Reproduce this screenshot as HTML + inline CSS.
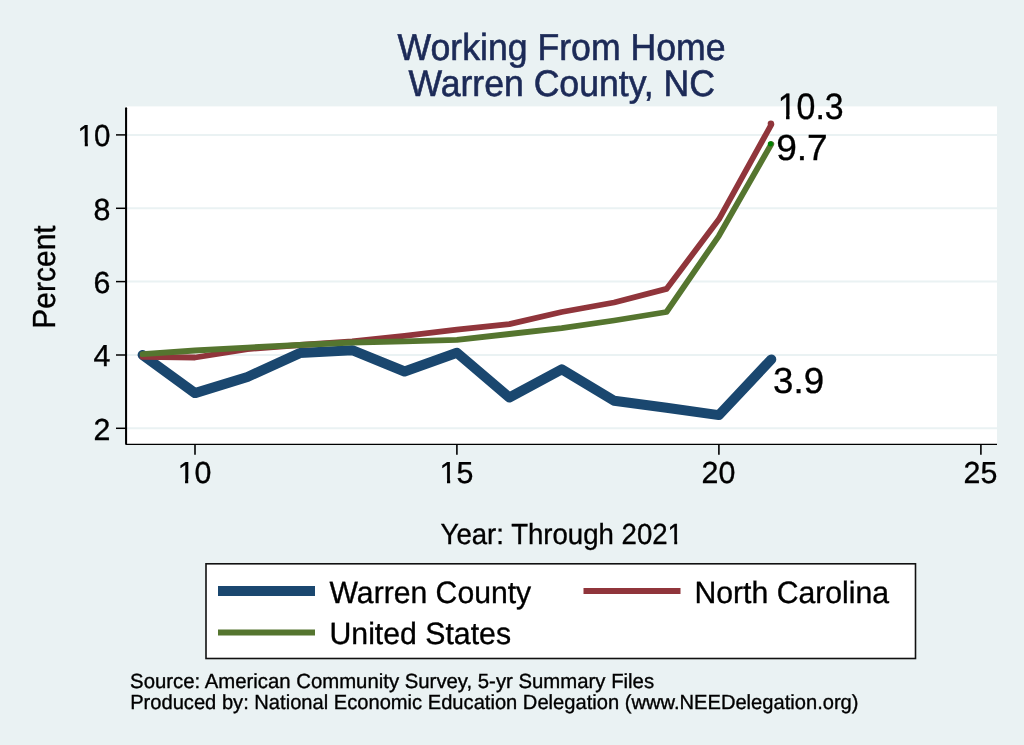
<!DOCTYPE html>
<html><head><meta charset="utf-8"><title>Working From Home - Warren County, NC</title>
<style>
html,body{margin:0;padding:0;background:#EAF2F3;}
body{width:1024px;height:745px;overflow:hidden;}
svg{display:block;font-family:'Liberation Sans', Arial, Helvetica, sans-serif;will-change:transform;text-rendering:geometricPrecision;}
</style></head><body>
<svg width="1024" height="745" viewBox="0 0 1024 745">
<rect x="0" y="0" width="1024" height="745" fill="#EAF2F3"/>
<text id="title1" x="397.44" y="59.50" font-size="37.50" fill="#1C2A57" stroke="#1C2A57" stroke-width="0.6" textLength="328.18" lengthAdjust="spacingAndGlyphs">Working From Home</text>
<text id="title2" x="408.40" y="96.10" font-size="37.06" fill="#1C2A57" stroke="#1C2A57" stroke-width="0.6" textLength="306.63" lengthAdjust="spacingAndGlyphs">Warren County, NC</text>
<rect x="126" y="106.4" width="871" height="338" fill="#fff"/>
<line x1="127" x2="997" y1="428.3" y2="428.3" stroke="#EAF2F3" stroke-width="2"/>
<line x1="127" x2="997" y1="355.0" y2="355.0" stroke="#EAF2F3" stroke-width="2"/>
<line x1="127" x2="997" y1="281.6" y2="281.6" stroke="#EAF2F3" stroke-width="2"/>
<line x1="127" x2="997" y1="208.3" y2="208.3" stroke="#EAF2F3" stroke-width="2"/>
<line x1="127" x2="997" y1="134.9" y2="134.9" stroke="#EAF2F3" stroke-width="2"/>

<polyline points="142.6,355.0 195.0,393.1 247.4,377.0 299.8,353.1 352.2,350.2 404.6,371.5 456.9,352.7 509.3,397.5 561.7,369.3 614.1,400.8 666.5,407.8 718.9,415.1 771.3,359.4" fill="none" stroke="#1A476F" stroke-width="10" stroke-linejoin="round" stroke-linecap="round"/>
<polyline points="142.6,356.8 195.0,357.5 247.4,349.1 299.8,345.0 352.2,341.4 404.6,335.9 456.9,329.6 509.3,324.1 561.7,312.0 614.1,302.5 666.5,288.9 718.9,219.3 771.3,124.6" fill="none" stroke="#90353B" stroke-width="5.8" stroke-linejoin="round" stroke-linecap="round"/>
<polyline points="142.6,354.2 195.0,350.5 247.4,347.6 299.8,345.0 352.2,342.5 404.6,341.4 456.9,339.9 509.3,334.0 561.7,328.2 614.1,320.5 666.5,312.0 718.9,235.8 771.3,144.1" fill="none" stroke="#55752F" stroke-width="5.8" stroke-linejoin="round" stroke-linecap="round"/>
<circle cx="770.9" cy="123.6" r="3.2" fill="#90353B"/>
<circle cx="770.4" cy="143.8" r="2.6" fill="#008000"/>
<path d="M126.1,108.2 L126.1,444.4 L997,444.4" fill="none" stroke="#000" stroke-width="1.3" stroke-linejoin="round"/>
<line x1="126.1" x2="126.1" y1="108.2" y2="443.5" stroke="#000" stroke-width="2" stroke-linecap="round"/>
<line x1="116" x2="126" y1="428.3" y2="428.3" stroke="#000" stroke-width="1.5"/>
<line x1="116" x2="126" y1="355.0" y2="355.0" stroke="#000" stroke-width="1.5"/>
<line x1="116" x2="126" y1="281.6" y2="281.6" stroke="#000" stroke-width="1.5"/>
<line x1="116" x2="126" y1="208.3" y2="208.3" stroke="#000" stroke-width="1.5"/>
<line x1="116" x2="126" y1="134.9" y2="134.9" stroke="#000" stroke-width="1.5"/>

<text id="yt2" x="110.4" y="439.7" text-anchor="end" font-size="30.38" stroke="#000" stroke-width="0.35">2</text>
<text id="yt4" x="110.4" y="366.4" text-anchor="end" font-size="30.38" stroke="#000" stroke-width="0.35">4</text>
<text id="yt6" x="110.4" y="293.0" text-anchor="end" font-size="30.38" stroke="#000" stroke-width="0.35">6</text>
<text id="yt8" x="110.4" y="219.7" text-anchor="end" font-size="30.38" stroke="#000" stroke-width="0.35">8</text>
<text id="yt10" x="110.4" y="146.3" text-anchor="end" font-size="30.38" stroke="#000" stroke-width="0.35" textLength="32.8" lengthAdjust="spacingAndGlyphs">10</text>

<line x1="195.0" x2="195.0" y1="444" y2="454.8" stroke="#000" stroke-width="1.6"/>
<text id="xt10" x="194.55" y="482.6" text-anchor="middle" font-size="30.38" stroke="#000" stroke-width="0.35">10</text>
<line x1="456.9" x2="456.9" y1="444" y2="454.8" stroke="#000" stroke-width="1.6"/>
<text id="xt15" x="456.50" y="482.6" text-anchor="middle" font-size="30.38" stroke="#000" stroke-width="0.35">15</text>
<line x1="718.9" x2="718.9" y1="444" y2="454.8" stroke="#000" stroke-width="1.6"/>
<text id="xt20" x="718.45" y="482.6" text-anchor="middle" font-size="30.38" stroke="#000" stroke-width="0.35">20</text>
<line x1="980.9" x2="980.9" y1="444" y2="454.8" stroke="#000" stroke-width="1.6"/>
<text id="xt25" x="980.40" y="482.6" text-anchor="middle" font-size="30.38" stroke="#000" stroke-width="0.35">25</text>

<text id="l103" x="777.78" y="119.00" font-size="36.77" fill="#000" stroke="#000" stroke-width="0.35" textLength="65.94" lengthAdjust="spacingAndGlyphs">10.3</text>
<text id="l97" x="776.17" y="160.20" font-size="36.34" fill="#000" stroke="#000" stroke-width="0.35" textLength="51.55" lengthAdjust="spacingAndGlyphs">9.7</text>
<text id="l39" x="773.12" y="393.20" font-size="36.34" fill="#000" stroke="#000" stroke-width="0.35" textLength="50.94" lengthAdjust="spacingAndGlyphs">3.9</text>
<text id="percent" x="0" y="0" font-size="31.98" fill="#000" stroke="#000" stroke-width="0.35" textLength="103.33" lengthAdjust="spacingAndGlyphs" transform="translate(54.90 328.64) rotate(-90)">Percent</text>
<text id="xtitle" x="440.57" y="543.90" font-size="29.07" fill="#000" stroke="#000" stroke-width="0.35" textLength="242.35" lengthAdjust="spacingAndGlyphs">Year: Through 2021</text>
<rect x="206" y="563.8" width="709.5" height="94.7" fill="#fff" stroke="#111" stroke-width="1.6"/>
<line x1="218" x2="315" y1="591" y2="591" stroke="#1A476F" stroke-width="10"/>
<text id="leg_wc" x="329.54" y="603.20" font-size="30.81" fill="#000" stroke="#000" stroke-width="0.35" textLength="201.63" lengthAdjust="spacingAndGlyphs">Warren County</text>
<line x1="583.5" x2="680.5" y1="591" y2="591" stroke="#90353B" stroke-width="6"/>
<text id="leg_nc" x="694.42" y="603.20" font-size="30.81" fill="#000" stroke="#000" stroke-width="0.35" textLength="194.73" lengthAdjust="spacingAndGlyphs">North Carolina</text>
<line x1="218" x2="315" y1="632.4" y2="632.4" stroke="#55752F" stroke-width="6"/>
<text id="leg_us" x="329.48" y="644.00" font-size="30.81" fill="#000" stroke="#000" stroke-width="0.35" textLength="181.57" lengthAdjust="spacingAndGlyphs">United States</text>
<text id="foot1" x="130.10" y="687.60" font-size="20.49" fill="#000" stroke="#000" stroke-width="0.35" textLength="523.99" lengthAdjust="spacingAndGlyphs">Source: American Community Survey, 5-yr Summary Files</text>
<text id="foot2" x="130.14" y="708.50" font-size="20.49" fill="#000" stroke="#000" stroke-width="0.35" textLength="728.39" lengthAdjust="spacingAndGlyphs">Produced by: National Economic Education Delegation (www.NEEDelegation.org)</text>
<rect x="78.45" y="142.53" width="6.32" height="5.37" fill="#EAF2F3"/>
<rect x="87.88" y="142.53" width="6.09" height="5.37" fill="#EAF2F3"/>
<rect x="178.57" y="478.83" width="6.48" height="5.37" fill="#EAF2F3"/>
<rect x="188.23" y="478.83" width="6.24" height="5.37" fill="#EAF2F3"/>
<rect x="440.52" y="478.83" width="6.48" height="5.37" fill="#EAF2F3"/>
<rect x="450.18" y="478.83" width="6.24" height="5.37" fill="#EAF2F3"/>
<rect x="778.96" y="114.75" width="7.09" height="5.85" fill="#fff"/>
<rect x="789.55" y="114.75" width="6.83" height="5.85" fill="#fff"/>
<rect x="668.26" y="540.23" width="5.99" height="5.27" fill="#EAF2F3"/>
<rect x="677.19" y="540.23" width="5.78" height="5.27" fill="#EAF2F3"/>
</svg>
</body></html>
